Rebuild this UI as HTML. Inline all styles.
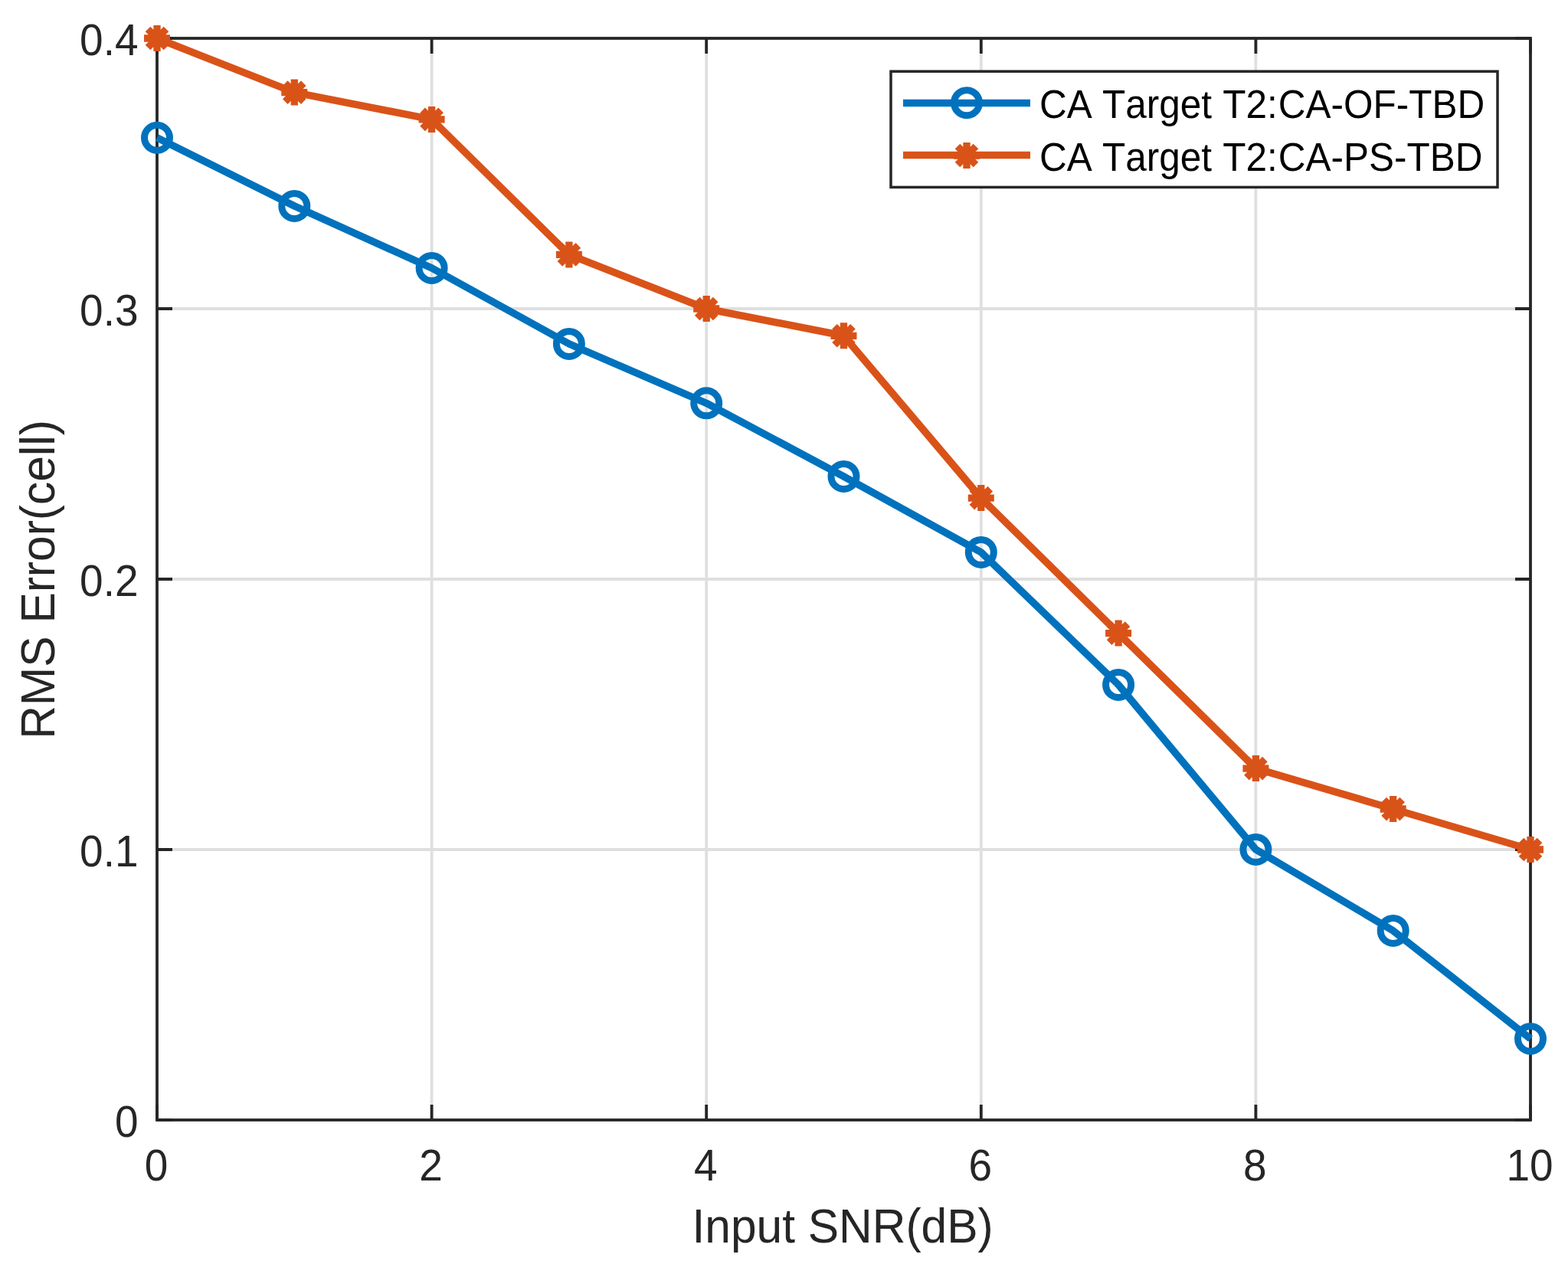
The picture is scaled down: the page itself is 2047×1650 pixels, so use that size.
<!DOCTYPE html>
<html><head><meta charset="utf-8"><title>RMS Error vs Input SNR</title>
<style>html,body{margin:0;padding:0;background:#fff;}body{width:2047px;height:1650px;overflow:hidden;}svg{display:block;}text{font-kerning:none;}</style>
</head><body>
<svg width="2047" height="1650" viewBox="0 0 2047 1650">
<rect x="0" y="0" width="2047" height="1650" fill="#ffffff"/>
<path d="M563.6 50.0V1462.0M922.2 50.0V1462.0M1280.8 50.0V1462.0M1639.4 50.0V1462.0M205.0 1109.0H1998.0M205.0 756.0H1998.0M205.0 403.0H1998.0" stroke="#DFDFDF" stroke-width="3.8" fill="none"/>
<path d="M205.0 1462.0V1442.0M205.0 50.0V70.0M563.6 1462.0V1442.0M563.6 50.0V70.0M922.2 1462.0V1442.0M922.2 50.0V70.0M1280.8 1462.0V1442.0M1280.8 50.0V70.0M1639.4 1462.0V1442.0M1639.4 50.0V70.0M1998.0 1462.0V1442.0M1998.0 50.0V70.0M205.0 1462.0H225.0M1998.0 1462.0H1978.0M205.0 1109.0H225.0M1998.0 1109.0H1978.0M205.0 756.0H225.0M1998.0 756.0H1978.0M205.0 403.0H225.0M1998.0 403.0H1978.0M205.0 50.0H225.0M1998.0 50.0H1978.0" stroke="#262626" stroke-width="3.8" fill="none"/>
<rect x="205.0" y="50.0" width="1793.0" height="1412.0" fill="none" stroke="#262626" stroke-width="3.8" stroke-linejoin="miter"/>
<polyline points="205.0,179.8 384.3,268.9 563.6,349.9 742.9,448.9 922.2,526.3 1101.5,621.9 1280.8,720.9 1460.1,893.9 1639.4,1108.9 1818.7,1214.9 1998.0,1355.9" fill="none" stroke="#0072BD" stroke-width="9.6" stroke-linejoin="round" stroke-linecap="butt"/>
<circle cx="205.0" cy="179.8" r="16.5" fill="none" stroke="#0072BD" stroke-width="9.0"/>
<circle cx="384.3" cy="268.9" r="16.5" fill="none" stroke="#0072BD" stroke-width="9.0"/>
<circle cx="563.6" cy="349.9" r="16.5" fill="none" stroke="#0072BD" stroke-width="9.0"/>
<circle cx="742.9" cy="448.9" r="16.5" fill="none" stroke="#0072BD" stroke-width="9.0"/>
<circle cx="922.2" cy="526.3" r="16.5" fill="none" stroke="#0072BD" stroke-width="9.0"/>
<circle cx="1101.5" cy="621.9" r="16.5" fill="none" stroke="#0072BD" stroke-width="9.0"/>
<circle cx="1280.8" cy="720.9" r="16.5" fill="none" stroke="#0072BD" stroke-width="9.0"/>
<circle cx="1460.1" cy="893.9" r="16.5" fill="none" stroke="#0072BD" stroke-width="9.0"/>
<circle cx="1639.4" cy="1108.9" r="16.5" fill="none" stroke="#0072BD" stroke-width="9.0"/>
<circle cx="1818.7" cy="1214.9" r="16.5" fill="none" stroke="#0072BD" stroke-width="9.0"/>
<circle cx="1998.0" cy="1355.9" r="16.5" fill="none" stroke="#0072BD" stroke-width="9.0"/>
<polyline points="205.0,50.0 384.3,120.6 563.6,155.9 742.9,332.4 922.2,403.0 1101.5,438.3 1280.8,650.1 1460.1,826.6 1639.4,1003.1 1818.7,1056.0 1998.0,1109.0" fill="none" stroke="#D95319" stroke-width="9.6" stroke-linejoin="round" stroke-linecap="butt"/>
<path d="M188.0 50.0H222.0M205.0 33.0V67.0M193.0 38.0L217.0 62.0M193.0 62.0L217.0 38.0" stroke="#D95319" stroke-width="9.3" fill="none" stroke-linecap="butt"/>
<path d="M367.3 120.6H401.3M384.3 103.6V137.6M372.3 108.6L396.3 132.6M372.3 132.6L396.3 108.6" stroke="#D95319" stroke-width="9.3" fill="none" stroke-linecap="butt"/>
<path d="M546.6 155.9H580.6M563.6 138.9V172.9M551.6 143.9L575.6 167.9M551.6 167.9L575.6 143.9" stroke="#D95319" stroke-width="9.3" fill="none" stroke-linecap="butt"/>
<path d="M725.9 332.4H759.9M742.9 315.4V349.4M730.9 320.4L754.9 344.4M730.9 344.4L754.9 320.4" stroke="#D95319" stroke-width="9.3" fill="none" stroke-linecap="butt"/>
<path d="M905.2 403.0H939.2M922.2 386.0V420.0M910.2 391.0L934.2 415.0M910.2 415.0L934.2 391.0" stroke="#D95319" stroke-width="9.3" fill="none" stroke-linecap="butt"/>
<path d="M1084.5 438.3H1118.5M1101.5 421.3V455.3M1089.5 426.3L1113.5 450.3M1089.5 450.3L1113.5 426.3" stroke="#D95319" stroke-width="9.3" fill="none" stroke-linecap="butt"/>
<path d="M1263.8 650.1H1297.8M1280.8 633.1V667.1M1268.8 638.1L1292.8 662.1M1268.8 662.1L1292.8 638.1" stroke="#D95319" stroke-width="9.3" fill="none" stroke-linecap="butt"/>
<path d="M1443.1 826.6H1477.1M1460.1 809.6V843.6M1448.1 814.6L1472.1 838.6M1448.1 838.6L1472.1 814.6" stroke="#D95319" stroke-width="9.3" fill="none" stroke-linecap="butt"/>
<path d="M1622.4 1003.1H1656.4M1639.4 986.1V1020.1M1627.4 991.1L1651.4 1015.1M1627.4 1015.1L1651.4 991.1" stroke="#D95319" stroke-width="9.3" fill="none" stroke-linecap="butt"/>
<path d="M1801.7 1056.0H1835.7M1818.7 1039.0V1073.0M1806.7 1044.0L1830.7 1068.1M1806.7 1068.1L1830.7 1044.0" stroke="#D95319" stroke-width="9.3" fill="none" stroke-linecap="butt"/>
<path d="M1981.0 1109.0H2015.0M1998.0 1092.0V1126.0M1986.0 1097.0L2010.0 1121.0M1986.0 1121.0L2010.0 1097.0" stroke="#D95319" stroke-width="9.3" fill="none" stroke-linecap="butt"/>
<text transform="translate(204.0,1540.7) scale(1,1.03)" font-family="'Liberation Sans', Arial, Helvetica, sans-serif" font-size="55" fill="#262626" text-anchor="middle">0</text>
<text transform="translate(562.6,1540.7) scale(1,1.03)" font-family="'Liberation Sans', Arial, Helvetica, sans-serif" font-size="55" fill="#262626" text-anchor="middle">2</text>
<text transform="translate(921.2,1540.7) scale(1,1.03)" font-family="'Liberation Sans', Arial, Helvetica, sans-serif" font-size="55" fill="#262626" text-anchor="middle">4</text>
<text transform="translate(1279.8,1540.7) scale(1,1.03)" font-family="'Liberation Sans', Arial, Helvetica, sans-serif" font-size="55" fill="#262626" text-anchor="middle">6</text>
<text transform="translate(1638.4,1540.7) scale(1,1.03)" font-family="'Liberation Sans', Arial, Helvetica, sans-serif" font-size="55" fill="#262626" text-anchor="middle">8</text>
<text transform="translate(1997.0,1540.7) scale(1,1.03)" font-family="'Liberation Sans', Arial, Helvetica, sans-serif" font-size="55" fill="#262626" text-anchor="middle">10</text>
<text transform="translate(180.5,1484.0) scale(1,1.03)" font-family="'Liberation Sans', Arial, Helvetica, sans-serif" font-size="55" fill="#262626" text-anchor="end">0</text>
<text transform="translate(180.5,1131.0) scale(1,1.03)" font-family="'Liberation Sans', Arial, Helvetica, sans-serif" font-size="55" fill="#262626" text-anchor="end">0.1</text>
<text transform="translate(180.5,778.0) scale(1,1.03)" font-family="'Liberation Sans', Arial, Helvetica, sans-serif" font-size="55" fill="#262626" text-anchor="end">0.2</text>
<text transform="translate(180.5,425.0) scale(1,1.03)" font-family="'Liberation Sans', Arial, Helvetica, sans-serif" font-size="55" fill="#262626" text-anchor="end">0.3</text>
<text transform="translate(180.5,72.0) scale(1,1.03)" font-family="'Liberation Sans', Arial, Helvetica, sans-serif" font-size="55" fill="#262626" text-anchor="end">0.4</text>
<text transform="translate(1100.1,1621.6) scale(1,1.045)" font-family="'Liberation Sans', Arial, Helvetica, sans-serif" font-size="60.5" fill="#262626" text-anchor="middle">Input SNR(dB)</text>
<text transform="translate(71.0,756.5) rotate(-90) scale(1,1.045)" font-family="'Liberation Sans', Arial, Helvetica, sans-serif" font-size="60.5" fill="#262626" text-anchor="middle">RMS Error(cell)</text>
<rect x="1163" y="93.2" width="792" height="151.2" fill="#ffffff" stroke="#262626" stroke-width="3.5"/>
<path d="M1179 134.5H1345" stroke="#0072BD" stroke-width="9.6" fill="none"/>
<circle cx="1262.0" cy="134.2" r="16.5" fill="none" stroke="#0072BD" stroke-width="9.0"/>
<path d="M1179 202.5H1345" stroke="#D95319" stroke-width="9.6" fill="none"/>
<path d="M1245.0 203.0H1279.0M1262.0 186.0V220.0M1250.0 191.0L1274.0 215.0M1250.0 215.0L1274.0 191.0" stroke="#D95319" stroke-width="9.3" fill="none" stroke-linecap="butt"/>
<text transform="translate(1357,153.9) scale(1,1.035)" font-family="'Liberation Sans', Arial, Helvetica, sans-serif" font-size="49.5" fill="#000000"><tspan x="0.0">CA</tspan> <tspan x="82.0">Target</tspan> <tspan x="239.2">T2:</tspan><tspan x="311.8">CA-OF-TBD</tspan></text>
<text transform="translate(1357,222.9) scale(1,1.035)" font-family="'Liberation Sans', Arial, Helvetica, sans-serif" font-size="49.5" fill="#000000"><tspan x="0.0">CA</tspan> <tspan x="82.0">Target</tspan> <tspan x="239.2">T2:</tspan><tspan x="311.8">CA-PS-TBD</tspan></text>
</svg>
</body></html>
